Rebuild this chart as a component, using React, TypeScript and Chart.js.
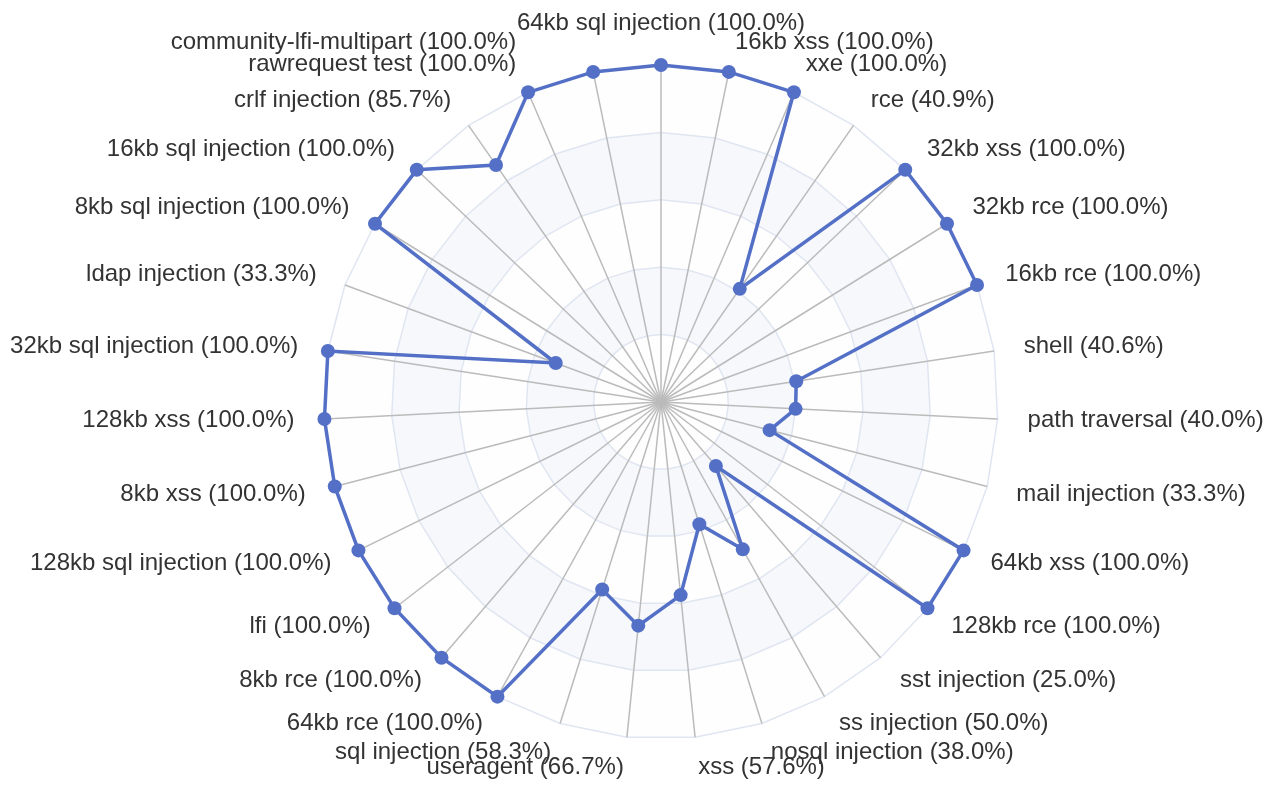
import React, { useEffect, useRef } from "react";
import { Chart, registerables } from "chart.js";

Chart.register(...registerables);

const categories: string[] = [
  "64kb sql injection",
  "16kb xss",
  "xxe",
  "rce",
  "32kb xss",
  "32kb rce",
  "16kb rce",
  "shell",
  "path traversal",
  "mail injection",
  "64kb xss",
  "128kb rce",
  "sst injection",
  "ss injection",
  "nosql injection",
  "xss",
  "useragent",
  "sql injection",
  "64kb rce",
  "8kb rce",
  "lfi",
  "128kb sql injection",
  "8kb xss",
  "128kb xss",
  "32kb sql injection",
  "ldap injection",
  "8kb sql injection",
  "16kb sql injection",
  "crlf injection",
  "rawrequest test",
  "community-lfi-multipart",
];

const passRates: number[] = [
  100.0, 100.0, 100.0, 40.9, 100.0, 100.0, 100.0, 40.6, 40.0, 33.3, 100.0,
  100.0, 25.0, 50.0, 38.0, 57.6, 66.7, 58.3, 100.0, 100.0, 100.0, 100.0,
  100.0, 100.0, 100.0, 33.3, 100.0, 100.0, 85.7, 100.0, 100.0,
];

const tickValues: number[] = [0, 20, 40, 60, 80, 100];

const labelTexts: string[] = categories.map(
  (c, i) => `${c} (${passRates[i].toFixed(1)}%)`
);

const LINE_COLOR = "#5470c6";
const SPLIT_LINE = "#E0E6F1";
const AXIS_LINE = "#bbbbbb";
const BAND_COLORS = ["rgba(250,250,250,0.2)", "rgba(210,219,238,0.2)"];
const LABEL_FONT = '24px "Liberation Sans", Arial, Helvetica, sans-serif';
const LABEL_GAP = 30;

const bandsPlugin = {
  id: "splitAreaBands",
  beforeDraw(chart: any) {
    const scale = chart.scales.r;
    if (!scale) return;
    const ctx = chart.ctx;
    const n = chart.data.labels.length;
    ctx.save();
    for (let b = tickValues.length - 1; b >= 1; b--) {
      const outer = tickValues[b];
      const inner = tickValues[b - 1];
      ctx.beginPath();
      for (let i = 0; i < n; i++) {
        const p = scale.getPointPositionForValue(i, outer);
        if (i === 0) ctx.moveTo(p.x, p.y);
        else ctx.lineTo(p.x, p.y);
      }
      ctx.closePath();
      for (let i = n - 1; i >= 0; i--) {
        const p = scale.getPointPositionForValue(i, inner);
        if (i === n - 1) ctx.moveTo(p.x, p.y);
        else ctx.lineTo(p.x, p.y);
      }
      ctx.closePath();
      ctx.fillStyle = BAND_COLORS[(b - 1) % 2];
      ctx.fill("evenodd");
    }
    ctx.restore();
  },
};

const labelNudge: Record<number, number> = { 30: -71 };

const axisNamePlugin = {
  id: "axisNames",
  afterDatasetsDraw(chart: any) {
    const scale = chart.scales.r;
    if (!scale) return;
    const ctx = chart.ctx;
    ctx.save();
    ctx.font = LABEL_FONT;
    ctx.fillStyle = "#333333";
    const n = labelTexts.length;
    for (let i = 0; i < n; i++) {
      const pos = scale.getPointPosition(i, scale.drawingArea + LABEL_GAP);
      const ang = (i / n) * Math.PI * 2;
      const s = Math.sin(ang);
      const c = Math.cos(ang);
      let align: CanvasTextAlign = "center";
      let base: CanvasTextBaseline = "middle";
      if (Math.abs(s) < 1e-4) {
        align = "center";
        base = c > 0 ? "bottom" : "top";
      } else {
        align = s > 0 ? "left" : "right";
        base = "middle";
      }
      ctx.textAlign = align;
      ctx.textBaseline = base;
      ctx.fillText(labelTexts[i], pos.x + (labelNudge[i] || 0), pos.y);
    }
    ctx.restore();
  },
};

export default function App() {
  const canvasRef = useRef<HTMLCanvasElement | null>(null);

  useEffect(() => {
    if (!canvasRef.current) return;
    const chart = new Chart(canvasRef.current, {
      type: "radar",
      data: {
        labels: categories,
        datasets: [
          {
            label: "Pass rate",
            data: passRates,
            borderColor: LINE_COLOR,
            backgroundColor: "rgba(0,0,0,0)",
            borderWidth: 3.5,
            fill: false,
            pointRadius: 7,
            pointBackgroundColor: LINE_COLOR,
            pointBorderColor: LINE_COLOR,
            pointBorderWidth: 0,
            pointHoverRadius: 7,
            tension: 0,
          },
        ],
      },
      options: {
        responsive: false,
        animation: false,
        events: [],
        layout: {
          padding: { left: 324, right: 277, top: 65, bottom: 47 },
        },
        plugins: {
          legend: { display: false },
          title: { display: false },
          tooltip: { enabled: false },
        },
        scales: {
          r: {
            min: 0,
            max: 100,
            beginAtZero: true,
            ticks: { display: false, stepSize: 20 },
            pointLabels: { display: false },
            grid: { circular: false, color: SPLIT_LINE, lineWidth: 1.5 },
            angleLines: { display: true, color: AXIS_LINE, lineWidth: 1.5 },
          },
        },
      },
      plugins: [bandsPlugin, axisNamePlugin],
    });
    return () => chart.destroy();
  }, []);

  return (
    <div
      style={{
        position: "fixed",
        left: 0,
        top: 0,
        width: 1275,
        height: 786,
        background: "#ffffff",
      }}
    >
      <canvas
        ref={canvasRef}
        width={1275}
        height={786}
        style={{ display: "block", width: 1275, height: 786 }}
      />
    </div>
  );
}
